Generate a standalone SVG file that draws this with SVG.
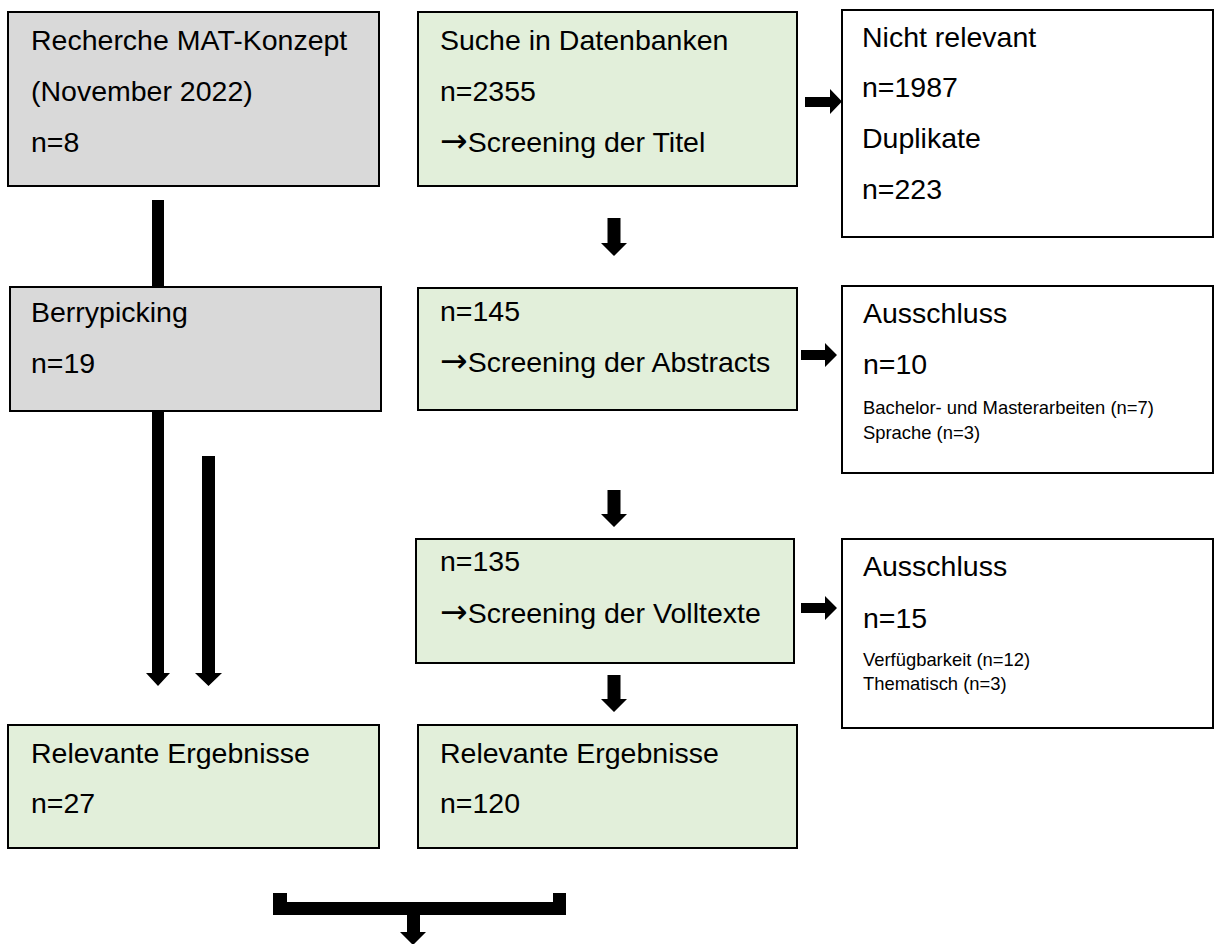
<svg xmlns="http://www.w3.org/2000/svg" width="1214" height="944" viewBox="0 0 1214 944">
<style>
.box{stroke:#000;stroke-width:2}
.gray{fill:#d9d9d9}
.green{fill:#e2efda}
.white{fill:#fff}
.t{font-family:"Liberation Sans",Arial,sans-serif;font-size:28.5px;fill:#000}
.s{font-family:"Liberation Sans",Arial,sans-serif;font-size:18.4px;fill:#000}
.ar{font-family:"DejaVu Sans",sans-serif;font-size:33px}
.arr{fill:#000}
</style>
<rect width="1214" height="944" fill="#fff"/>
<g id="connectors">
<rect class="arr" x="152" y="200" width="12" height="87"/>
<path class="arr" d="M805,97 H830 V89 L842,101.5 L830,114 V107 H805 Z"/>
<path class="arr" d="M801,350 H825 V343 L837,355 L825,367 V360 H801 Z"/>
<path class="arr" d="M801,603 H825 V596 L837,608 L825,620 V613 H801 Z"/>
<path class="arr" d="M607.5,218 H620.5 V243 H627 L614,256 L601,243 H607.5 Z"/>
<path class="arr" d="M607.5,490 H620.5 V514 H627 L614,527 L601,514 H607.5 Z"/>
<path class="arr" d="M607.5,675 H620.5 V699 H627 L614,712 L601,699 H607.5 Z"/>
<path class="arr" d="M152,411 H164 V673 H170 L158,686 L146,673 H152 Z"/>
<path class="arr" d="M202,456 H215 V673 H222 L208.5,686 L195,673 H202 Z"/>
<path class="arr" d="M273,893 H287 V902 H553 V893 H566 V915 H420 V932 H426 L413,945 L400,932 H407 V915 H273 Z"/>
</g>
<g id="recherche">
<rect class="box gray" x="8" y="12" width="371" height="174"/>
<text class="t" x="31" y="50">Recherche MAT-Konzept</text>
<text class="t" x="31" y="101">(November 2022)</text>
<text class="t" x="31" y="152">n=8</text>
</g>
<g id="suche">
<rect class="box green" x="418" y="12" width="379" height="174"/>
<text class="t" x="440" y="50">Suche in Datenbanken</text>
<text class="t" x="440" y="101">n=2355</text>
<text class="t" x="440" y="152"><tspan class="ar">→</tspan>Screening der Titel</text>
</g>
<g id="nichtrelevant">
<rect class="box white" x="842" y="10" width="371" height="227"/>
<text class="t" x="862" y="47">Nicht relevant</text>
<text class="t" x="862" y="97">n=1987</text>
<text class="t" x="862" y="148">Duplikate</text>
<text class="t" x="862" y="199">n=223</text>
</g>
<g id="berrypicking">
<rect class="box gray" x="10" y="287" width="371" height="124"/>
<text class="t" x="31" y="322">Berrypicking</text>
<text class="t" x="31" y="373">n=19</text>
</g>
<g id="abstracts">
<rect class="box green" x="418" y="288" width="379" height="122"/>
<text class="t" x="440" y="321">n=145</text>
<text class="t" x="440" y="372"><tspan class="ar">→</tspan>Screening der Abstracts</text>
</g>
<g id="ausschluss1">
<rect class="box white" x="842" y="286" width="371" height="187"/>
<text class="t" x="863" y="323">Ausschluss</text>
<text class="t" x="863" y="374">n=10</text>
<text class="s" x="863" y="414">Bachelor- und Masterarbeiten (n=7)</text>
<text class="s" x="863" y="439">Sprache (n=3)</text>
</g>
<g id="volltexte">
<rect class="box green" x="416" y="539" width="378" height="124"/>
<text class="t" x="440" y="571">n=135</text>
<text class="t" x="440" y="623"><tspan class="ar">→</tspan>Screening der Volltexte</text>
</g>
<g id="ausschluss2">
<rect class="box white" x="842" y="539" width="371" height="189"/>
<text class="t" x="863" y="576">Ausschluss</text>
<text class="t" x="863" y="628">n=15</text>
<text class="s" x="863" y="666">Verfügbarkeit (n=12)</text>
<text class="s" x="863" y="690">Thematisch (n=3)</text>
</g>
<g id="relevant1">
<rect class="box green" x="8" y="725" width="371" height="123"/>
<text class="t" x="31" y="763">Relevante Ergebnisse</text>
<text class="t" x="31" y="813">n=27</text>
</g>
<g id="relevant2">
<rect class="box green" x="418" y="725" width="379" height="123"/>
<text class="t" x="440" y="763">Relevante Ergebnisse</text>
<text class="t" x="440" y="813">n=120</text>
</g>
</svg>
